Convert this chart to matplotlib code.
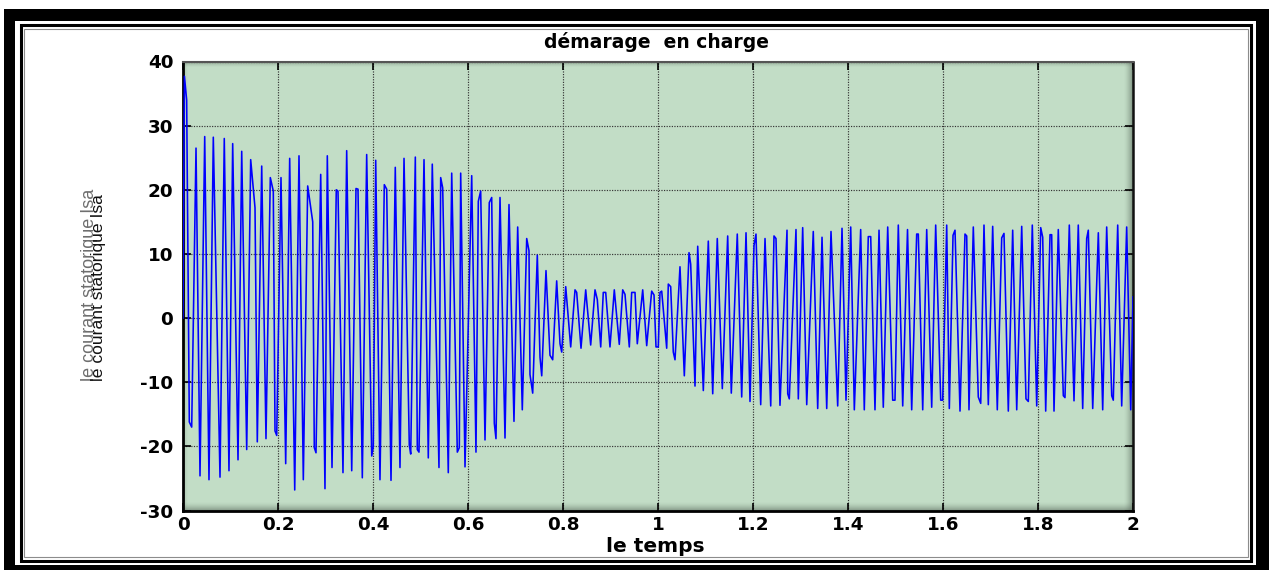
import numpy as np
import matplotlib
matplotlib.use('Agg')
import matplotlib.pyplot as plt
from matplotlib.patches import Rectangle

# ---------------- data ----------------
# local maxima / upper vertices of the current waveform: time (ms), value (A)
peak_t_ms = [3, 7.7, 27.4, 45.7, 63.8, 86.9, 104.6, 123.6, 142.5, 151.6, 165.7, 183.8, 190.1,
             206.3, 224.6, 244.2, 262.5, 273.1, 289.9, 303.8, 322.7, 326.3, 344.6, 364.2, 368.4,
             386.7, 405.7, 423.8, 428.8, 446.9, 465.3, 489.1, 507.4, 524.8, 542.5, 546.7, 565.7,
             584.6, 607.8, 621.7, 626.7, 644.8, 649.9, 667.4, 686.3, 704.6, 723.6, 728.4, 745.9,
             764.2, 786.7, 805.7, 825.3, 828.8, 847.8, 867.4, 872.2, 884.8, 889.9, 908.0, 925.7,
             930.5, 944.6, 951.6, 967.8, 986.7, 991.6, 1004.2, 1007.8, 1021.7, 1026.7, 1046.3,
             1065.3, 1068.8, 1083.6, 1105.9, 1124.8, 1146.7, 1166.9, 1185.3, 1202.1, 1206.3,
             1225.3, 1244.2, 1248.4, 1271.6, 1290.5, 1304.6, 1326.9, 1345.3, 1364.2, 1387.4,
             1405.7, 1426.7, 1442.7, 1447.8, 1465.3, 1483.6, 1505.9, 1525.3, 1544.6, 1548.0,
             1565.7, 1584.6, 1607.8, 1621.1, 1625.3, 1646.3, 1649.9, 1663.8, 1686.3, 1704.6,
             1723.6, 1728.4, 1746.7, 1765.7, 1788.0, 1805.7, 1809.9, 1825.3, 1828.8, 1842.7,
             1865.9, 1884.8, 1902.5, 1905.9, 1927.0, 1944.6, 1967.8, 1986.7]
peak_i = [37.7, 34.0, 26.5, 28.3, 28.2, 28.0, 27.2, 26.0, 24.7, 17.2, 23.7, 21.9, 19.8,
          21.9, 24.9, 25.3, 20.6, 15.0, 22.4, 25.3, 20.0, 19.8, 26.1, 20.2, 20.1,
          25.5, 24.6, 20.8, 20.1, 23.5, 24.9, 25.1, 24.7, 24.0, 21.9, 20.3, 22.6,
          22.6, 22.2, 18.2, 19.8, 18.0, 18.8, 18.8, 17.7, 14.2, 12.4, 10.5, 9.8,
          7.4, 5.8, 4.9, 4.4, 4.0, 4.4, 4.4, 2.9, 4.0, 4.0, 4.4, 4.4,
          3.7, 4.0, 4.0, 4.4, 4.2, 3.6, 4.0, 4.2, 5.3, 4.9, 8.0,
          10.2, 8.4, 11.2, 12.0, 12.4, 12.8, 13.1, 13.3, 11.3, 13.1,
          12.4, 12.8, 12.4, 13.7, 13.8, 14.1, 13.5, 12.6, 13.5, 14.0,
          14.2, 13.8, 12.7, 12.7, 13.7, 14.2, 14.5, 13.8, 13.1, 13.1,
          13.8, 14.5, 14.5, 12.9, 13.7, 13.1, 12.8, 14.2, 14.5, 14.3,
          12.5, 13.2, 13.7, 14.3, 14.5, 14.1, 12.6, 13.0, 13.0, 13.8,
          14.5, 14.5, 12.4, 13.7, 13.3, 14.2, 14.5, 14.2]

# local minima / lower vertices: time (ms), value (A)
trough_t_ms = [13.3, 18.3, 35.8, 54.7, 77.9, 96.8, 115.8, 134.1, 156.4, 174.7, 193.7, 197.3,
               216.2, 235.2, 253.3, 276.4, 280.0, 298.9, 313.7, 336.8, 355.2, 377.5, 397.3,
               400.6, 414.7, 437.9, 456.8, 476.4, 479.4, 493.3, 496.8, 516.4, 538.9, 558.5,
               577.5, 581.7, 593.7, 616.8, 635.8, 655.4, 658.9, 677.9, 696.8, 714.3, 730.5,
               736.2, 751.6, 755.2, 772.6, 778.3, 793.7, 797.3, 816.2, 837.9, 858.3, 879.4,
               898.9, 918.5, 939.6, 956.4, 976.2, 995.8, 1000.6, 1018.3, 1032.2, 1035.8,
               1055.4, 1077.9, 1095.4, 1115.2, 1135.4, 1154.3, 1176.2, 1193.7, 1216.2, 1237.3,
               1256.8, 1273.1, 1276.4, 1295.4, 1313.1, 1336.2, 1355.2, 1378.3, 1395.8, 1413.3,
               1434.3, 1456.8, 1474.3, 1494.1, 1498.9, 1515.2, 1534.1, 1557.3, 1576.2, 1595.2,
               1599.4, 1613.3, 1635.8, 1654.7, 1674.3, 1679.4, 1695.4, 1714.3, 1737.5, 1755.2,
               1774.7, 1779.6, 1797.3, 1816.2, 1833.7, 1853.3, 1856.8, 1875.8, 1894.1, 1915.2,
               1936.2, 1955.2, 1958.5, 1976.2, 1995.2]
trough_i = [-16.2, -17.0, -24.6, -25.2, -24.8, -23.8, -22.1, -20.5, -19.3, -18.8, -17.6, -18.3,
            -22.7, -26.8, -25.2, -20.2, -21.0, -26.6, -23.3, -24.1, -23.8, -24.9, -21.5,
            -20.0, -25.2, -25.3, -23.3, -19.8, -21.2, -20.5, -20.9, -21.8, -23.3, -24.1,
            -20.9, -20.2, -23.2, -20.9, -19.0, -16.4, -18.8, -18.7, -16.1, -14.3, -8.8,
            -11.7, -6.1, -9.0, -5.8, -6.5, -4.0, -5.3, -4.5, -4.7, -4.2, -4.5,
            -4.5, -4.1, -4.5, -4.0, -4.3, -4.5, -4.5, -4.7, -5.3, -6.5,
            -9.0, -10.6, -11.3, -11.8, -11.0, -11.7, -12.3, -13.0, -13.5, -13.7,
            -13.6, -11.8, -12.6, -12.6, -13.5, -14.1, -14.1, -13.7, -12.8, -14.3,
            -14.3, -14.3, -13.9, -12.8, -12.8, -13.7, -14.3, -14.3, -13.9, -12.8,
            -12.8, -14.1, -14.5, -14.3, -12.3, -13.3, -13.5, -14.3, -14.5, -14.3,
            -12.6, -13.0, -13.7, -14.5, -14.5, -12.1, -12.4, -12.9, -14.1, -14.1,
            -14.3, -12.1, -12.8, -13.7, -14.3]

# first and last samples
end_t_ms = [0, 2000]
end_i = [0.0, 3.3]

xticks = [0, 0.2, 0.4, 0.6, 0.8, 1.0, 1.2, 1.4, 1.6, 1.8, 2.0]
xtick_labels = ['0', '0.2', '0.4', '0.6', '0.8', '1', '1.2', '1.4', '1.6', '1.8', '2']
yticks = [-30, -20, -10, 0, 10, 20, 30, 40]
ytick_labels = ['-30', '-20', '-10', '0', '10', '20', '30', '40']

title_text = 'démarage  en charge'
xlabel_text = 'le temps'
ylabel_text = 'le courant statorique Isa'

# ---------------- figure ----------------
W, H = 1269, 570
fig = plt.figure(figsize=(W / 100, H / 100), dpi=100)
fig.patch.set_facecolor('white')

def fx(x):
    return x / W

def fy(y):
    return 1 - y / H

# decorative double frame (pixel coordinates, y downward)
bg = fig.add_axes([0, 0, 1, 1], zorder=0)
bg.set_xlim(0, W)
bg.set_ylim(H, 0)
bg.axis('off')
bg.add_patch(Rectangle((4, 9), W + 10, H + 10, facecolor='black', edgecolor='none'))
bg.add_patch(Rectangle((15, 21), 1256 - 15, 565 - 21, facecolor='white', edgecolor='none'))
bg.add_patch(Rectangle((20.5, 25.3), 1250.5 - 20.5, 560.8 - 25.3, facecolor='none',
                       edgecolor='black', linewidth=2.2))
bg.add_patch(Rectangle((23.8, 28.5), 1247.8 - 23.8, 556.7 - 28.5, facecolor='none',
                       edgecolor='#8c8c8c', linewidth=0.8))

# main axes
L, R, T, B = 183, 1133, 61.5, 510.5
ax = fig.add_axes([fx(L), fy(B), (R - L) / W, (B - T) / H], zorder=1)
ax.set_facecolor('#c2ddc6')

t = np.array(peak_t_ms + trough_t_ms + end_t_ms) / 1000.0
v = np.array(peak_i + trough_i + end_i)
order = np.argsort(t, kind='stable')
ax.plot(t[order], v[order], color='#0000ff', linewidth=1.15, zorder=3)

ax.set_xlim(0, 2)
ax.set_ylim(-30, 40)
ax.set_autoscale_on(False)

# inner shading near the right / bottom / top edges
shade_col = (0.28, 0.33, 0.29)
pw, ph = 1.0 / (R - L), 1.0 / (B - T)
for k in range(9):
    a = 0.5 * ((9 - k) / 9.0) ** 1.6
    ax.add_patch(Rectangle((1 - (k + 1) * pw, 0), pw, 1, transform=ax.transAxes,
                           facecolor=shade_col, edgecolor='none', alpha=a, zorder=1.2))
    ax.add_patch(Rectangle((0, k * ph), 1, ph, transform=ax.transAxes,
                           facecolor=shade_col, edgecolor='none', alpha=a, zorder=1.2))
for k in range(5):
    a = 0.35 * ((5 - k) / 5.0) ** 1.6
    ax.add_patch(Rectangle((0, 1 - (k + 1) * ph), 1, ph, transform=ax.transAxes,
                           facecolor=shade_col, edgecolor='none', alpha=a, zorder=1.2))
    ax.add_patch(Rectangle((k * pw, 0), pw, 1, transform=ax.transAxes,
                           facecolor=shade_col, edgecolor='none', alpha=a * 0.6, zorder=1.2))

ax.grid(True, linestyle=(0, (1, 1.2)), color='#333333', linewidth=0.85, zorder=1.5)

tick_font = dict(family='DejaVu Sans', weight='bold', size=13.2)
ax.set_xticks(xticks)
ax.set_xticklabels(xtick_labels, fontdict=tick_font)
ax.set_yticks(yticks)
ax.set_yticklabels(ytick_labels, fontdict=tick_font)
ax.tick_params(direction='in', length=6, width=1.2, top=True, right=True,
               colors='black', pad=4)
ax.tick_params(axis='y', pad=7)

for s in ['left', 'bottom']:
    ax.spines[s].set_linewidth(2.0)
    ax.spines[s].set_color('black')
ax.spines['right'].set_linewidth(1.8)
ax.spines['right'].set_color('#111111')
ax.spines['top'].set_linewidth(1.5)
ax.spines['top'].set_color('#555555')

# texts
fig.text(fx(656), fy(42), title_text, ha='center', va='center',
         family='DejaVu Sans', weight='bold', fontsize=13.5)
fig.text(fx(655), fy(546), xlabel_text, ha='center', va='center',
         family='DejaVu Sans', weight='bold', fontsize=14.5)
fig.text(fx(89), fy(381), ylabel_text, rotation=90, rotation_mode='anchor',
         ha='left', va='center', family='Liberation Sans', fontsize=13.0, color='#6e6e6e')
fig.text(fx(98), fy(381), ylabel_text, rotation=90, rotation_mode='anchor',
         ha='left', va='center', family='Liberation Sans', fontsize=12.6, color='#111111')

fig.savefig('out.png', dpi=100, facecolor='white')
